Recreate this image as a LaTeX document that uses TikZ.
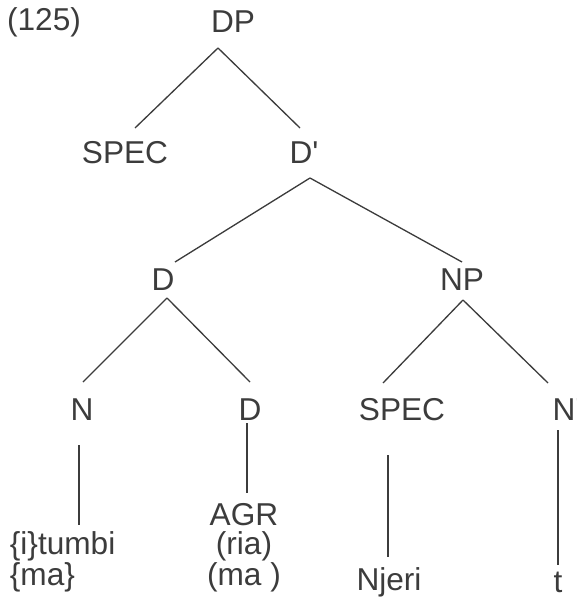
\documentclass[tikz,border=0pt]{standalone}
\usepackage{fontspec}
\setmainfont{Liberation Sans}
\usetikzlibrary{calc}
\definecolor{ink}{HTML}{3C3C3C}
\tikzset{
    cat/.style = {text=ink, font=\fontsize{18}{16.5}\selectfont, inner sep=2pt},
    leaf/.style = {cat, align=center},
    branch/.style = {draw=ink, line width=0.75pt},
}

\begin{document}
\begin{tikzpicture}[x=0.02cm, y=-0.02cm]
\useasboundingbox (0,0) rectangle (576,601);
% labels of the tree
\node[cat] (num) at (44,22) {(125)};
\node[cat] (DP) at (233,22) {DP};
\node[cat] (spec1) at (125,153) {SPEC};
\node[cat] (Dbar) at (304,153) {D\textquotesingle};
\node[cat] (D1) at (163,280) {D};
\node[cat] (NP) at (462,280) {NP};
\node[cat] (N) at (82,410) {N};
\node[cat] (D2) at (250,410) {D};
\node[cat] (spec2) at (402,410) {SPEC};
\node[cat] (Nbar) at (567,410) {N\textquotesingle};
\node[leaf, align=left, anchor=west] (tumbi) at (6,562) {\{i\}tumbi\\\{ma\}};
\node[leaf] (agr) at (244,548) {AGR\\(ria)\\(ma )};
\node[cat] (njeri) at (389,582) {Njeri};
\node[cat] (trace) at (558,582) {t};
% branches
\draw[branch] ($(DP)+(-15,26)$) -- ($(spec1)+(10,-25)$);
\draw[branch] ($(DP)+(-15,26)$) -- ($(Dbar)+(-4,-25)$);
\draw[branch] ($(Dbar)+(6,25)$) -- ($(D1)+(12,-18)$);
\draw[branch] ($(Dbar)+(6,25)$) -- ($(NP)+(0,-18)$);
\draw[branch] ($(D1)+(4,18)$) -- ($(N)+(1,-28)$);
\draw[branch] ($(D1)+(4,18)$) -- ($(D2)+(0,-28)$);
\draw[branch] ($(NP)+(1,20)$) -- ($(spec2)+(-19,-27)$);
\draw[branch] ($(NP)+(1,20)$) -- ($(Nbar)+(-19,-27)$);
% unary lines
\draw[branch] ($(N)+(-3,35)$) -- ($(N)+(-3,115)$);
\draw[branch] ($(D2)+(-3,13)$) -- ($(D2)+(-3,83)$);
\draw[branch] ($(spec2)+(-14,45)$) -- ($(spec2)+(-14,147)$);
\draw[branch] ($(Nbar)+(-9,20)$) -- ($(Nbar)+(-9,155)$);
\end{tikzpicture}
\end{document}
